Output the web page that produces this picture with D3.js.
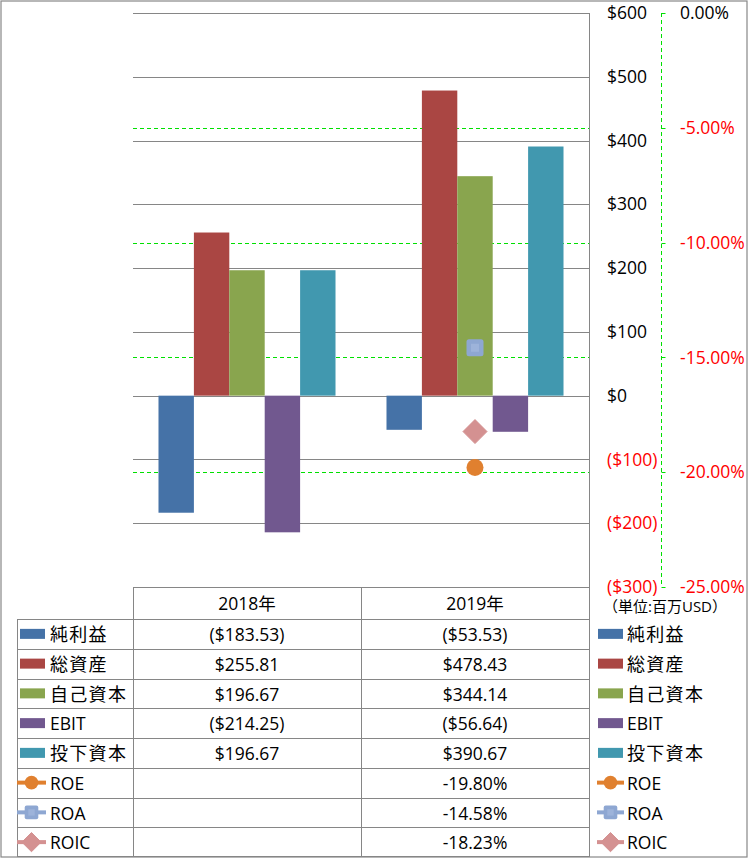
<!DOCTYPE html>
<html><head><meta charset="utf-8">
<script src="https://cdn.jsdelivr.net/npm/d3@7"></script>
<style>
html,body{margin:0;padding:0;background:#fff;}
svg{display:block;}
text{font-family:"Open Sans","Noto Sans CJK JP",sans-serif;}
</style></head>
<body>
<svg id="c" width="749" height="858"></svg>
<script>
const years = ["2018年", "2019年"];
const barSeries = ["純利益", "総資産", "自己資本", "EBIT", "投下資本"];
const barColors = ["#4572a7", "#aa4643", "#89a54e", "#71588f", "#4198af"];
const net = [-183.53, -53.53];
const assets = [255.81, 478.43];
const equity = [196.67, 344.14];
const ebit = [-214.25, -56.64];
const invested = [196.67, 390.67];
const lineSeries = ["ROE", "ROA", "ROIC"];
const lineColors = ["#e0802f", "#8ea7d2", "#d49191"];
const roe = [null, -0.1980];
const roa = [null, -0.1458];
const roic = [null, -0.1823];
const usdTicks = [600, 500, 400, 300, 200, 100, 0, -100, -200, -300];
const pctTicks = [0, -0.05, -0.10, -0.15, -0.20, -0.25];
const unitLabel = "（単位:百万USD）";

const barValues = [net, assets, equity, ebit, invested];
const lineValues = [roe, roa, roic];

const svg = d3.select("#c");
const L = 133, R = 589, T = 13, B = 587;

const x0 = d3.scaleBand().domain(years).range([L, R]).padding(0);
const x1 = d3.scaleBand().domain(barSeries).range([0, x0.bandwidth()]).paddingInner(0).paddingOuter(0.72);
const y = d3.scaleLinear().domain([-300, 600]).range([B, T]);
const yp = d3.scaleLinear().domain([-0.25, 0]).range([B, T]);

const fmtUsd = v => v < 0 ? "($" + d3.format(".2f")(-v) + ")" : "$" + d3.format(".2f")(v);
const fmtUsdTick = v => v < 0 ? "($" + (-v) + ")" : "$" + v;
const fmtPct = v => (v < 0 ? "-" : "") + d3.format(".2f")(Math.abs(v) * 100) + "%";

// outer border
svg.append("rect").attr("x", 1).attr("y", 1).attr("width", 746).attr("height", 856)
  .attr("fill", "none").attr("stroke", "#888").attr("stroke-width", 1.2);

// gridlines (usd)
svg.append("g").selectAll("line").data(usdTicks).join("line")
  .attr("x1", L).attr("x2", R).attr("y1", d => Math.round(y(d)) + 0.5).attr("y2", d => Math.round(y(d)) + 0.5)
  .attr("stroke", "#868686").attr("stroke-width", 1);

// pct gridlines green dashed
svg.append("g").selectAll("line").data(pctTicks.filter(d => d !== 0 && d !== -0.25)).join("line")
  .attr("x1", L).attr("x2", R).attr("y1", d => Math.round(yp(d)) + 0.5).attr("y2", d => Math.round(yp(d)) + 0.5)
  .attr("stroke", "#00e000").attr("stroke-width", 1).attr("stroke-dasharray", "4,3");

// bars
const bars = [];
years.forEach((yr, i) => barSeries.forEach((s, j) => bars.push({yr, s, j, v: barValues[j][i]})));
svg.append("g").selectAll("rect").data(bars).join("rect")
  .attr("x", d => x0(d.yr) + x1(d.s))
  .attr("width", x1.bandwidth())
  .attr("y", d => y(Math.max(0, d.v)))
  .attr("height", d => Math.abs(y(d.v) - y(0)))
  .attr("fill", d => barColors[d.j]);

// usd axis line
svg.append("line").attr("x1", R + 0.5).attr("x2", R + 0.5).attr("y1", T).attr("y2", B)
  .attr("stroke", "#868686").attr("stroke-width", 1);

// usd axis labels
svg.append("g").selectAll("text").data(usdTicks).join("text")
  .attr("x", 607).attr("y", d => y(d)).attr("dy", "0.35em")
  .attr("font-size", 17.5)
  .attr("fill", d => d < 0 ? "#ff0000" : "#000")
  .text(fmtUsdTick);

// pct axis
const PX = 661.5;
svg.append("line").attr("x1", PX).attr("x2", PX).attr("y1", T).attr("y2", B)
  .attr("stroke", "#00e000").attr("stroke-width", 1).attr("stroke-dasharray", "4,3");
svg.append("g").selectAll("line").data(pctTicks).join("line")
  .attr("x1", PX).attr("x2", PX + 4).attr("y1", d => Math.round(yp(d)) + 0.5).attr("y2", d => Math.round(yp(d)) + 0.5)
  .attr("stroke", "#00e000").attr("stroke-width", 1);
svg.append("g").selectAll("text").data(pctTicks).join("text")
  .attr("x", 680).attr("y", d => yp(d)).attr("dy", "0.35em")
  .attr("font-size", 17.5)
  .attr("fill", d => d < 0 ? "#ff0000" : "#000")
  .text(fmtPct);

// unit label
svg.append("text").attr("x", 603).attr("y", 607).attr("dy", "0.35em")
  .attr("font-size", 15).attr("font-family", "Noto Sans CJK JP").attr("fill", "#000").text(unitLabel);

// markers
function drawMarker(g, k, cx, cy, sc) {
  const c = lineColors[k];
  if (k === 0) {
    g.append("circle").attr("cx", cx).attr("cy", cy).attr("r", 8.5 * sc).attr("fill", c);
  } else if (k === 1) {
    const s = 17 * sc;
    g.append("rect").attr("x", cx - s / 2).attr("y", cy - s / 2).attr("width", s).attr("height", s)
      .attr("rx", 2.5 * sc).attr("fill", c);
    const s2 = 8 * sc;
    g.append("rect").attr("x", cx - s2 / 2).attr("y", cy - s2 / 2).attr("width", s2).attr("height", s2)
      .attr("fill", "#9db3da");
  } else {
    const h = 12 * sc;
    g.append("path").attr("d", `M${cx},${cy - h}L${cx + h},${cy}L${cx},${cy + h}L${cx - h},${cy}Z`)
      .attr("fill", c).attr("stroke", c).attr("stroke-width", 1).attr("stroke-linejoin", "round");
  }
}
const mg = svg.append("g");
lineValues.forEach((arr, k) => arr.forEach((v, i) => {
  if (v === null) return;
  drawMarker(mg, k, x0(years[i]) + x0.bandwidth() / 2, yp(v), 1);
}));

// data table
const rowTop = 619, rowH = 29.75, nRows = barSeries.length + lineSeries.length;
const tg = svg.append("g");
const stroke = "#868686";
tg.append("line").attr("x1", L + 0.5).attr("x2", L + 0.5).attr("y1", B).attr("y2", 857).attr("stroke", stroke);
const midX = x0(years[1]);
tg.append("line").attr("x1", midX + 0.5).attr("x2", midX + 0.5).attr("y1", B).attr("y2", 857).attr("stroke", stroke);
tg.append("line").attr("x1", R + 0.5).attr("x2", R + 0.5).attr("y1", B).attr("y2", 857).attr("stroke", stroke);
tg.append("line").attr("x1", 17.5).attr("x2", 17.5).attr("y1", rowTop).attr("y2", 857).attr("stroke", stroke);
d3.range(nRows).forEach(r => {
  const yy = Math.round(rowTop + r * rowH) + 0.5;
  tg.append("line").attr("x1", 17).attr("x2", R).attr("y1", yy).attr("y2", yy).attr("stroke", stroke);
});
tg.append("line").attr("x1", 17).attr("x2", R).attr("y1", 856.5).attr("y2", 856.5).attr("stroke", stroke);

// header text
tg.selectAll("text.h").data(years).join("text").attr("class", "h")
  .attr("x", d => x0(d) + x0.bandwidth() / 2).attr("y", (B + rowTop) / 2 + 1).attr("dy", "0.35em")
  .attr("text-anchor", "middle").attr("font-size", 17.5).text(d => d);

const allNames = barSeries.concat(lineSeries);
const allVals = barValues.concat(lineValues);
allNames.forEach((name, r) => {
  const cy = rowTop + r * rowH + rowH / 2;
  const isBar = r < barSeries.length;
  const cjk = /[^\x00-\x7f]/.test(name);
  [[17, 20, 45, 50], [597, 598, 623, 627]].forEach(([lx, sx, ex, tx]) => {
    if (isBar) {
      tg.append("rect").attr("x", sx).attr("y", cy - 5).attr("width", ex - sx).attr("height", 10).attr("fill", barColors[r]);
    } else {
      const k = r - barSeries.length;
      tg.append("line").attr("x1", lx).attr("x2", ex + 1).attr("y1", cy).attr("y2", cy)
        .attr("stroke", lineColors[k]).attr("stroke-width", 4);
      drawMarker(tg, k, (lx + ex + 1) / 2, cy, 0.8);
    }
    tg.append("text").attr("x", tx).attr("y", cy + 1).attr("dy", "0.35em")
      .attr("font-size", cjk ? 18 : 17.5).attr("letter-spacing", cjk ? 1.3 : 0).text(name);
  });
  years.forEach((yr, i) => {
    const v = allVals[r][i];
    if (v === null) return;
    tg.append("text").attr("x", x0(yr) + x0.bandwidth() / 2).attr("y", cy + 1).attr("dy", "0.35em")
      .attr("text-anchor", "middle").attr("font-size", 17.5).text(isBar ? fmtUsd(v) : fmtPct(v));
  });
});
</script>
</body></html>
